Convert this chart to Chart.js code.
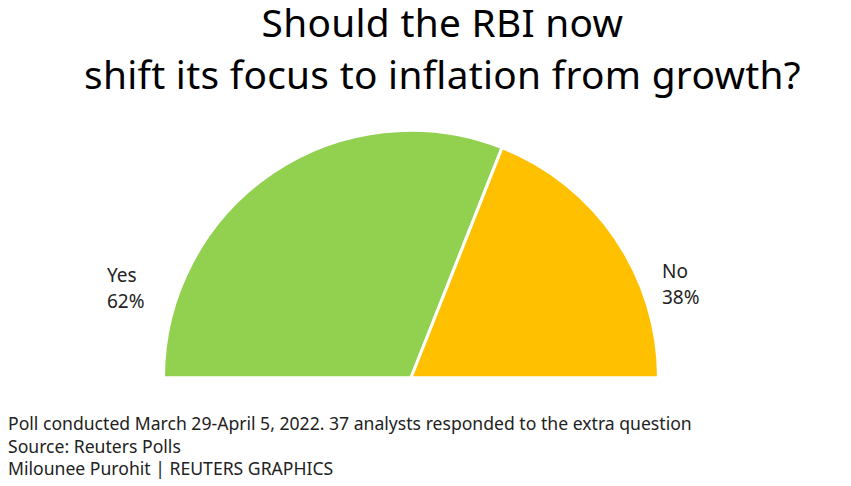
<!DOCTYPE html>
<html><head><meta charset="utf-8">
<script src="https://cdn.jsdelivr.net/npm/chart.js"></script>
<style>
body{margin:0;width:851px;height:486px;background:#fff;font-family:"Noto Sans",sans-serif;position:relative;overflow:hidden}
#title{position:absolute;top:-4px;left:17px;width:851px;text-align:center;font-size:38.8px;line-height:52px;color:#000;letter-spacing:0.3px}
#wrap{position:absolute;left:162px;top:128px;width:498px;height:252px}
.lbl{position:absolute;font-size:19px;line-height:26px;color:#222}
#foot{position:absolute;left:8px;top:412px;font-size:17.6px;line-height:22.5px;color:#222}
</style></head><body>
<div id="title">Should the RBI now<br>shift its focus to inflation from growth?</div>
<div id="wrap"><canvas id="c"></canvas></div>
<div class="lbl" style="left:107px;top:262px">Yes<br>62%</div>
<div class="lbl" style="left:662px;top:258px">No<br>38%</div>
<div id="foot">Poll conducted March 29-April 5, 2022. 37 analysts responded to the extra question<br>Source: Reuters Polls<br>Milounee Purohit | REUTERS GRAPHICS</div>
<script>
const categories = ["Yes", "No"];
const shares = [62, 38];
const colours = ["#92d050", "#ffc000"];

new Chart(document.getElementById("c"), {
  type: "pie",
  data: { labels: categories, datasets: [{ data: shares, backgroundColor: colours, borderColor: "#fff", borderWidth: 3 }] },
  options: {
    responsive: true, maintainAspectRatio: false, animation: false,
    rotation: -90, circumference: 180,
    layout: { padding: 0 },
    plugins: { legend: { display: false }, tooltip: { enabled: false } }
  }
});
</script>
</body></html>
